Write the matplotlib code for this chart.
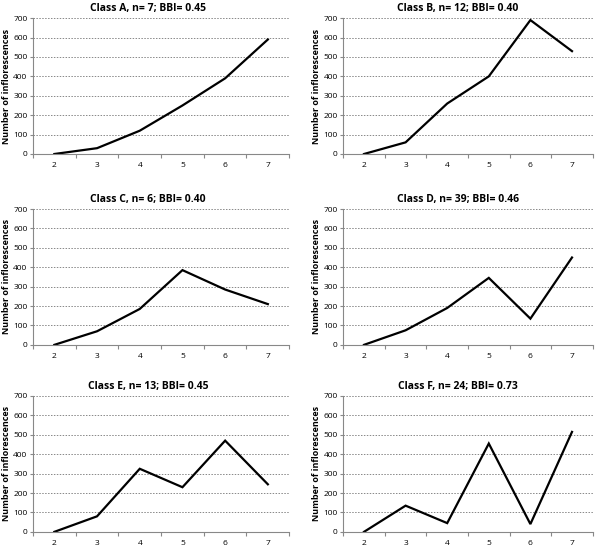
import numpy as np
from matplotlib import pyplot as plt

sizes = [2, 3, 4, 5, 6, 7]
titles = ["Class A, n= 7; BBI= 0.45", "Class B, n= 12; BBI= 0.40",
          "Class C, n= 6; BBI= 0.40", "Class D, n= 39; BBI= 0.46",
          "Class E, n= 13; BBI= 0.45", "Class F, n= 24; BBI= 0.73"]
class_a = [0, 30, 120, 250, 390, 590]
class_b = [0, 60, 260, 400, 690, 530]
class_c = [0, 70, 185, 385, 285, 210]
class_d = [0, 75, 190, 345, 135, 450]
class_e = [0, 80, 325, 230, 470, 245]
class_f = [0, 135, 45, 455, 40, 515]
series = [class_a, class_b, class_c, class_d, class_e, class_f]
y_ticks = [0, 100, 200, 300, 400, 500, 600, 700]

plt.rcParams['font.family'] = ['Open Sans', 'DejaVu Sans']

fig = plt.figure(figsize=(6, 5.5), dpi=100)

lefts = [0.055, 0.572]
bottoms = [0.72, 0.373, 0.033]
w = [0.427, 0.416]
h = 0.247
title_x = [0.45, 0.46]

for i, (title, vals) in enumerate(zip(titles, series)):
    row, col = divmod(i, 2)
    ax = fig.add_axes([lefts[col], bottoms[row], w[col], h])
    x = np.arange(len(sizes))
    ax.plot(x, vals, color="black", lw=1.6, solid_joinstyle="miter")
    ax.set_xlim(-0.5, len(sizes) - 0.5)
    ax.set_ylim(0, 700)
    ax.set_yticks(y_ticks)
    ax.set_xticks(x)
    ax.set_xticklabels([str(s) for s in sizes])
    ax.set_xticks(np.arange(len(sizes) + 1) - 0.5, minor=True)
    ax.tick_params(axis="x", which="major", length=0, pad=6, labelsize=6)
    ax.tick_params(axis="x", which="minor", length=3, color="#888888", width=0.8)
    ax.tick_params(axis="y", length=2.5, color="#888888", width=0.8, labelsize=6, pad=1.5)
    ax.yaxis.grid(True, linestyle=(0, (1.5, 1.5)), color="#888888", lw=0.7)
    ax.set_axisbelow(True)
    for s in ["top", "right"]:
        ax.spines[s].set_visible(False)
    for s in ["left", "bottom"]:
        ax.spines[s].set_color("#888888")
        ax.spines[s].set_linewidth(0.8)
    ax.set_title(title, fontsize=7.5, fontweight="bold", pad=5, x=title_x[col])
    ax.set_ylabel("Number of inflorescences", fontsize=6.5, fontweight="bold", labelpad=1.5)

fig.savefig("out.png", dpi=100)
